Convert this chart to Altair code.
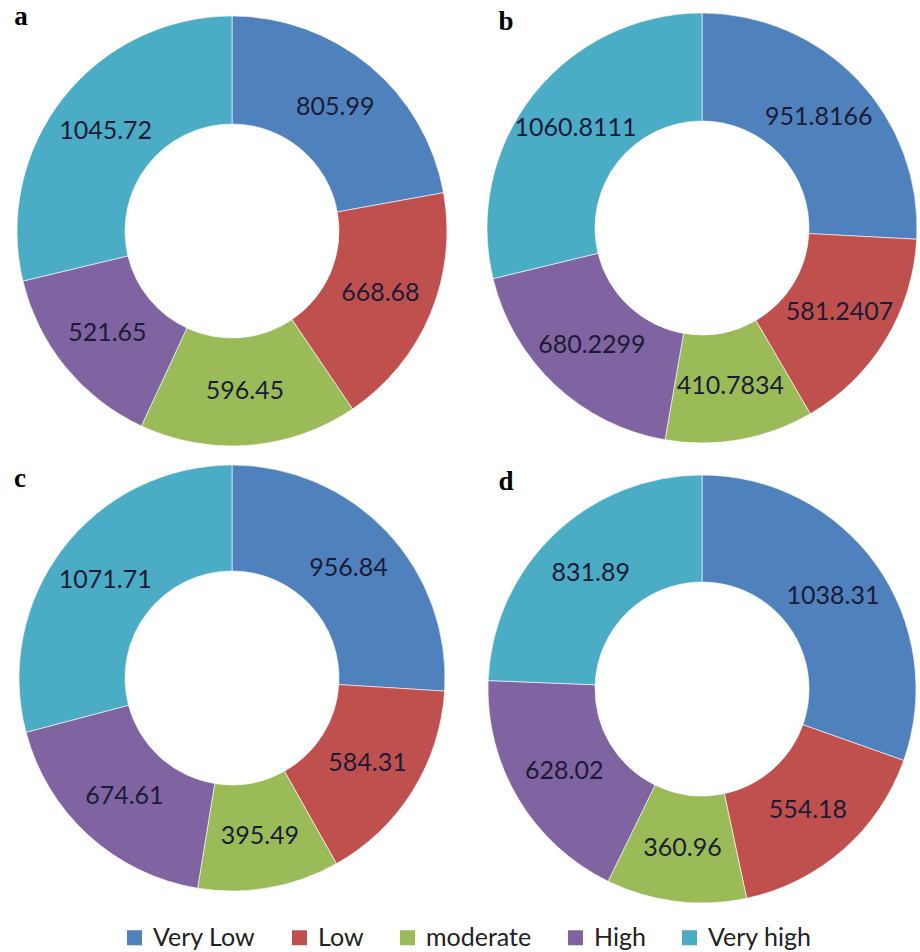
import altair as alt
import pandas as pd

# Classes and their colours (same order in every ring)
categories = ["Very Low", "Low", "moderate", "High", "Very high"]
colors = ["#4F81BD", "#C0504D", "#9BBB59", "#8064A2", "#4BACC6"]

# Area per class for each of the four panels
panel_names = ["a", "b", "c", "d"]
values_a = [805.99, 668.68, 596.45, 521.65, 1045.72]
values_b = [951.8166, 581.2407, 410.7834, 680.2299, 1060.8111]
values_c = [956.84, 584.31, 395.49, 674.61, 1071.71]
values_d = [1038.31, 554.18, 360.96, 628.02, 831.89]
panel_values = [values_a, values_b, values_c, values_d]

# Layout: ring centres, outer radius and panel-letter anchor points (pixels)
centers = [(232, 231), (702, 228), (232, 678), (702, 689)]
outer_r = [215, 215, 213, 214]
letter_pos = [(21, 25), (506, 30), (20, 487), (506, 490)]

LABEL_FONT = "Lato"
LABEL_COLOR = "#1b1b35"

color_scale = alt.Scale(domain=categories, range=colors)
legend = alt.Legend(
    orient="none", legendX=122, legendY=925, direction="horizontal",
    title=None, symbolType="square", symbolSize=225, symbolStrokeWidth=0,
    labelFont=LABEL_FONT, labelFontSize=25, labelColor="#222222",
    labelOffset=6, columnPadding=31, columns=5,
)

layers = []
for name, vals, (cx, cy), r in zip(panel_names, panel_values, centers, outer_r):
    df = pd.DataFrame({
        "category": categories,
        "value": vals,
        "rank": list(range(len(categories))),
        "label": [repr(v) for v in vals],
    })
    base = alt.Chart(df).encode(
        theta=alt.Theta("value:Q", stack=True),
        order=alt.Order("rank:Q"),
        x=alt.value(cx),
        y=alt.value(cy),
    )
    ring = base.mark_arc(
        outerRadius=r, innerRadius=107, stroke="white",
        strokeWidth=1, strokeOpacity=0.6,
    ).encode(
        color=alt.Color("category:N", scale=color_scale, sort=categories, legend=legend)
    )
    labels = base.mark_text(
        radius=(r + 107) / 2, font=LABEL_FONT, fontSize=25, color=LABEL_COLOR,
    ).encode(text="label:N")
    layers.append(alt.layer(ring, labels))

for name, (lx, ly) in zip(panel_names, letter_pos):
    letter = alt.Chart(pd.DataFrame({"panel": [name]})).mark_text(
        font="Liberation Serif", fontWeight="bold", fontSize=27,
        align="center", baseline="alphabetic", color="black",
    ).encode(text="panel:N", x=alt.value(lx), y=alt.value(ly))
    layers.append(letter)

chart = (
    alt.layer(*layers)
    .resolve_scale(theta="independent")
    .properties(width=920, height=952, autosize="none", padding=0, background="white")
    .configure_view(stroke=None)
)

chart.save("out.html", embed_options={"renderer": "svg", "actions": False})
